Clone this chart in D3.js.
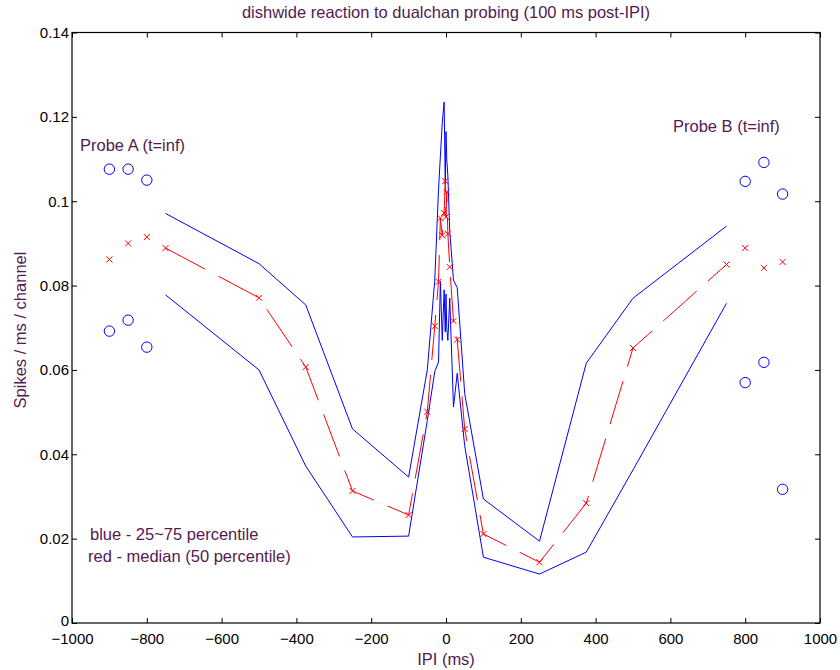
<!DOCTYPE html>
<html>
<head>
<meta charset="utf-8">
<script src="https://cdn.jsdelivr.net/npm/d3@7"></script>
<style>
  html, body { margin: 0; padding: 0; background: #fff; }
  svg { display: block; font-family: "Liberation Sans", Arial, Helvetica, sans-serif; }
</style>
</head>
<body>
<svg id="chart" width="840" height="670"></svg>
<script>
// Inter-probe interval (ms) for the swept conditions
const ipi = [-750, -500, -375, -250, -100, -50, -30, -20, -15, -10, -5, -2, 0, 2, 5, 10, 20, 30, 50, 100, 250, 375, 500, 750];
// 75th percentile of the dish-wide response
const upperPct = [0.0971, 0.0852, 0.0754, 0.0460, 0.0346, 0.0600, 0.0813, 0.1028, 0.1107, 0.1186, 0.1235, 0.1040, 0.1165, 0.1100, 0.1060, 0.0930, 0.0813, 0.0795, 0.0544, 0.0294, 0.0194, 0.0616, 0.0770, 0.0941];
// 50th percentile (median)
const medianPct = [0.0889, 0.0771, 0.0607, 0.0313, 0.0256, 0.0501, 0.0704, 0.0809, 0.0960, 0.0919, 0.0972, 0.1048, 0.0963, 0.1022, 0.0923, 0.0844, 0.0716, 0.0672, 0.0460, 0.0211, 0.0144, 0.0284, 0.0652, 0.0850];
// 25th percentile
const lowerPct = [0.0778, 0.0600, 0.0372, 0.0204, 0.0206, 0.0480, 0.0596, 0.0619, 0.0810, 0.0670, 0.0790, 0.0690, 0.0780, 0.0700, 0.0670, 0.0770, 0.0512, 0.0592, 0.0420, 0.0156, 0.0116, 0.0168, 0.0363, 0.0758];

// Single-probe references (t = inf), plotted at placeholder positions
const probeAx = [-900, -850, -800];
const probeAUpper = [0.1076, 0.1076, 0.1050];
const probeAMedian = [0.0862, 0.0900, 0.0915];
const probeALower = [0.0692, 0.0718, 0.0654];
const probeBx = [800, 850, 900];
const probeBUpper = [0.1047, 0.1092, 0.1017];
const probeBMedian = [0.0889, 0.0842, 0.0856];
const probeBLower = [0.0570, 0.0618, 0.0317];

const xTicks = [-1000, -800, -600, -400, -200, 0, 200, 400, 600, 800, 1000];
const yTicks = [0, 0.02, 0.04, 0.06, 0.08, 0.1, 0.12, 0.14];

const svg = d3.select("#chart");
const plotLeft = 72, plotRight = 820, plotTop = 32.5, plotBottom = 623;
const textColor = "#531a53";

const x = d3.scaleLinear().domain([-1000, 1000]).range([plotLeft, plotRight]);
const y = d3.scaleLinear().domain([0, 0.14]).range([plotBottom, plotTop]);

const fmtY = d => d === 0 ? "0" : String(+d.toFixed(2));

// axes with inward ticks on all four sides
svg.append("g").attr("transform", `translate(0,${plotBottom})`)
  .call(d3.axisBottom(x).tickValues(xTicks).tickFormat(d3.format("d")).tickSizeInner(-5).tickSizeOuter(0).tickPadding(10));
svg.append("g").attr("transform", `translate(0,${plotTop})`)
  .call(d3.axisTop(x).tickValues(xTicks).tickFormat("").tickSizeInner(-5).tickSizeOuter(0));
const yAxisG = svg.append("g").attr("transform", `translate(${plotLeft},0)`)
  .call(d3.axisLeft(y).tickValues(yTicks).tickFormat(fmtY).tickSizeInner(-5).tickSizeOuter(0).tickPadding(3));
svg.append("g").attr("transform", `translate(${plotRight},0)`)
  .call(d3.axisRight(y).tickValues(yTicks).tickFormat("").tickSizeInner(-5).tickSizeOuter(0));

svg.selectAll(".domain").remove();
svg.selectAll(".tick line").attr("stroke", "#000").attr("stroke-width", 1);
svg.selectAll(".tick text").attr("fill", "#000").style("font-size", "15px")
  .style("font-family", "'Liberation Sans', Arial, sans-serif");
// lift the zero label a touch so it clears the x-axis labels below
yAxisG.selectAll(".tick").filter(d => d === 0).select("text").attr("y", -2);

svg.append("rect")
  .attr("x", plotLeft).attr("y", plotTop)
  .attr("width", plotRight - plotLeft).attr("height", plotBottom - plotTop)
  .attr("fill", "none").attr("stroke", "#000").attr("stroke-width", 1.2);

const line = d3.line().x(d => x(d[0])).y(d => y(d[1]));
const plot = svg.append("g");

// percentile bands
[upperPct, lowerPct].forEach(vals => {
  plot.append("path")
    .datum(ipi.map((v, i) => [v, vals[i]]))
    .attr("d", line)
    .attr("fill", "none").attr("stroke", "#0000ff").attr("stroke-width", 1);
});

// median, dashed, with x markers
const medPts = ipi.map((v, i) => [v, medianPct[i]]);
plot.append("path")
  .datum(medPts)
  .attr("d", line)
  .attr("fill", "none").attr("stroke", "#ff0000").attr("stroke-width", 1)
  .attr("stroke-dasharray", "45,15");

function crosses(pts) {
  const s = 3;
  plot.append("g").selectAll("path").data(pts).join("path")
    .attr("d", d => {
      const cx = x(d[0]), cy = y(d[1]);
      return `M${cx - s},${cy - s}L${cx + s},${cy + s}M${cx - s},${cy + s}L${cx + s},${cy - s}`;
    })
    .attr("stroke", "#ff0000").attr("stroke-width", 1).attr("fill", "none");
}
function circles(pts) {
  plot.append("g").selectAll("circle").data(pts).join("circle")
    .attr("cx", d => x(d[0])).attr("cy", d => y(d[1])).attr("r", 5.2)
    .attr("fill", "none").attr("stroke", "#0000ff").attr("stroke-width", 1);
}

crosses(medPts);
crosses(probeAx.map((v, i) => [v, probeAMedian[i]]));
crosses(probeBx.map((v, i) => [v, probeBMedian[i]]));
circles(probeAx.map((v, i) => [v, probeAUpper[i]]));
circles(probeAx.map((v, i) => [v, probeALower[i]]));
circles(probeBx.map((v, i) => [v, probeBUpper[i]]));
circles(probeBx.map((v, i) => [v, probeBLower[i]]));

// text
const label = (tx, ty, str, anchor, rot) => {
  const t = svg.append("text")
    .attr("x", tx).attr("y", ty)
    .attr("fill", textColor)
    .style("font-size", "16.5px")
    .attr("text-anchor", anchor || "start")
    .text(str);
  if (rot) t.attr("transform", `rotate(${rot},${tx},${ty})`);
  return t;
};
label(446, 18, "dishwide reaction to dualchan probing (100 ms post-IPI)", "middle");
label(446, 665, "IPI (ms)", "middle");
label(26, 330, "Spikes / ms / channel", "middle", -90);
label(80, 151, "Probe A (t=inf)");
label(673, 132, "Probe B (t=inf)");
label(90, 540, "blue - 25~75 percentile");
label(88, 562, "red - median (50 percentile)");
</script>
</body>
</html>
